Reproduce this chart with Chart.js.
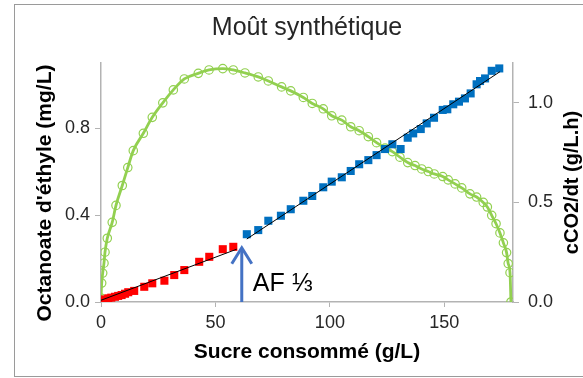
<!DOCTYPE html>
<html><head><meta charset="utf-8">
<script src="https://cdn.jsdelivr.net/npm/chart.js@4/dist/chart.umd.min.js"></script>
<style>html,body{margin:0;padding:0;background:#fff}canvas{display:block}</style>
</head><body>
<canvas id="c" width="583" height="378"></canvas>
<script>
// ---- data ----
const chartTitle = "Moût synthétique";
const xTitle = "Sucre consommé (g/L)";
const yTitle = "Octanoate d'éthyle (mg/L)";
const y1Title = "cCO2/dt (g/L.h)";
const afLabel = "AF ⅓";

// CO2 rate (right axis)
const co2X = [0.0,0.3,0.74,1.3,1.75,2.75,4.9,6.55,9.3,11.7,14.1,18.5,22.4,27.0,31.6,36.4,42.5,47.2,53.2,57.8,62.9,68.7,73.1,78.9,82.9,88.4,92.3,97.1,100.8,105.2,109.1,112.8,116.8,120.4,124.1,127.3,130.6,134.0,137.2,140.1,143.0,145.6,149.3,151.7,154.7,157.6,161.2,164.1,167.0,168.8,170.7,172.6,174.3,175.8,177.2,177.9,178.7,179.1];
const co2Y = [0.02,0.095,0.145,0.195,0.25,0.32,0.40,0.485,0.585,0.675,0.76,0.847,0.927,1.0,1.065,1.12,1.148,1.165,1.172,1.165,1.15,1.13,1.11,1.08,1.06,1.027,0.997,0.97,0.935,0.913,0.88,0.86,0.83,0.80,0.773,0.755,0.727,0.70,0.685,0.668,0.655,0.643,0.63,0.613,0.593,0.573,0.543,0.527,0.50,0.477,0.435,0.393,0.347,0.297,0.248,0.193,0.147,0.0];

// Ethyl octanoate before AF 1/3 (red)
const redX = [0,0.5,1,1.8,3.2,4.5,6.1,7.5,9.0,10.5,11.9,14.5,18.9,22.4,27.7,32.0,36.4,42.9,47.3,53.2,57.8];
const redY = [0.002,0.005,0.008,0.012,0.017,0.02,0.024,0.028,0.032,0.038,0.045,0.051,0.070,0.086,0.098,0.124,0.147,0.185,0.208,0.243,0.254];

// Ethyl octanoate after AF 1/3 (blue)
const blueX = [63.7,68.7,73.1,78.6,82.9,88.4,92.3,97.1,100.8,105.2,109.1,112.8,116.8,120.4,124.1,127.3,130.9,134.0,136.4,139.7,142.3,145.5,149.3,151.3,153.9,156.4,159.0,161.5,164.1,165.6,167.8,170.7,174.0];
const blueY = [0.312,0.331,0.374,0.397,0.427,0.466,0.488,0.528,0.554,0.574,0.603,0.634,0.653,0.676,0.704,0.726,0.704,0.756,0.776,0.796,0.822,0.848,0.884,0.887,0.910,0.922,0.937,0.960,1.002,1.017,1.029,1.064,1.075];

// linear trend lines (end points)
const redTrendX = [0, 59.3];
const redTrendY = [0.008, 0.243];
const blueTrendX = [63.7, 174.3];
const blueTrendY = [0.29, 1.06];

// AF 1/3 marker
const arrowX = 61.5;
const arrowTopY = 0.254;

// axes
const xMin = 0, xMax = 180, xStep = 50;
const yMin = 0, yMax = 1.1, yStep = 0.4;
const y1Min = 0, y1Max = 1.2, y1Step = 0.5;

const pts = (xs, ys) => xs.map((x, i) => ({x: x, y: ys[i]}));

const FONT = "'Liberation Sans', Arial, sans-serif";
const AXIS = '#b3b3b3';
const TXT = '#262626';

const extras = {
  id: 'extras',
  beforeDraw(chart) {
    const ctx = chart.ctx;
    ctx.save();
    ctx.fillStyle = '#fff';
    ctx.fillRect(0, 0, chart.width, chart.height);
    ctx.strokeStyle = '#9a9a9a';
    ctx.lineWidth = 1;
    ctx.strokeRect(14.5, 4.5, 600, 372);
    ctx.restore();
  },
  afterDraw(chart) {
    const ctx = chart.ctx;
    const a = chart.chartArea;
    const xs = chart.scales.x, ys = chart.scales.y;
    ctx.save();
    // title
    ctx.fillStyle = TXT;
    ctx.font = '25px ' + FONT;
    ctx.textAlign = 'center';
    ctx.textBaseline = 'middle';
    ctx.fillText(chartTitle, (a.left + a.right) / 2, 28);
    ctx.fillStyle = '#000';
    // left axis title
    ctx.save();
    ctx.font = 'bold 21px ' + FONT;
    ctx.translate(45, 193);
    ctx.rotate(-Math.PI / 2);
    ctx.fillText(yTitle, 0, 0);
    ctx.restore();
    // right axis title (reading bottom to top)
    ctx.font = 'bold 20px ' + FONT;
    ctx.translate(572, (a.top + a.bottom) / 2);
    ctx.rotate(-Math.PI / 2);
    ctx.fillText(y1Title, 0, 0);
    ctx.restore();

    // arrow
    ctx.save();
    const ax = xs.getPixelForValue(arrowX);
    const ay0 = ys.getPixelForValue(0);
    const ay1 = ys.getPixelForValue(arrowTopY);
    ctx.strokeStyle = '#4472C4';
    ctx.lineWidth = 3;
    ctx.lineCap = 'butt';
    ctx.beginPath();
    ctx.moveTo(ax, ay0);
    ctx.lineTo(ax, ay1 + 2);
    ctx.stroke();
    ctx.lineJoin = 'miter';
    ctx.beginPath();
    ctx.moveTo(ax - 10, ay1 + 17);
    ctx.lineTo(ax, ay1 + 1);
    ctx.lineTo(ax + 10, ay1 + 17);
    ctx.stroke();
    // label
    ctx.fillStyle = '#000';
    ctx.font = '25px ' + FONT;
    ctx.textAlign = 'left';
    ctx.textBaseline = 'alphabetic';
    ctx.fillText(afLabel, ax + 11, ay0 - 11);
    ctx.restore();
  }
};

const tickFont = {family: FONT, size: 18};

new Chart(document.getElementById('c'), {
  type: 'scatter',
  data: {
    datasets: [
      {
        type: 'line', label: 'CO2', yAxisID: 'y1',
        data: pts(co2X, co2Y),
        borderColor: '#92D050', borderWidth: 2.8,
        cubicInterpolationMode: 'monotone',
        pointStyle: 'circle', pointRadius: 4.2,
        pointBorderColor: '#92D050', pointBackgroundColor: 'rgba(0,0,0,0)', pointBorderWidth: 1.2,
        order: 5
      },
      {
        label: 'avant', yAxisID: 'y', data: pts(redX, redY),
        pointStyle: 'rect', pointRadius: 5.7, backgroundColor: '#FF0000', borderColor: '#FF0000', borderWidth: 0,
        order: 3
      },
      {
        label: 'après', yAxisID: 'y', data: pts(blueX, blueY),
        pointStyle: 'rect', pointRadius: 5.7, backgroundColor: '#0070C0', borderColor: '#0070C0', borderWidth: 0,
        order: 3
      },
      {
        type: 'line', label: 'trend1', yAxisID: 'y', data: pts(redTrendX, redTrendY),
        borderColor: '#000', borderWidth: 1, pointRadius: 0, order: 1
      },
      {
        type: 'line', label: 'trend2', yAxisID: 'y', data: pts(blueTrendX, blueTrendY),
        borderColor: '#000', borderWidth: 1, pointRadius: 0, order: 1
      }
    ]
  },
  options: {
    responsive: false,
    animation: false,
    devicePixelRatio: 1,
    layout: {padding: {top: 63, left: 24, right: 0, bottom: 10}},
    plugins: {legend: {display: false}, tooltip: {enabled: false}, title: {display: false}},
    scales: {
      x: {
        type: 'linear', min: xMin, max: xMax,
        afterFit(s) { s.height = 66; },
        ticks: {stepSize: xStep, includeBounds: false, color: TXT, font: tickFont, padding: 5, maxRotation: 0},
        grid: {display: true, drawOnChartArea: false, drawTicks: true, tickLength: 5, color: AXIS},
        border: {display: true, color: AXIS, width: 1.5},
        title: {display: true, text: xTitle, color: '#000', font: {family: FONT, size: 21, weight: 'bold'}, padding: {top: 2, bottom: 3}}
      },
      y: {
        type: 'linear', position: 'left', min: yMin, max: yMax,
        afterFit(s) { s.width = 77; },
        ticks: {stepSize: yStep, includeBounds: false, color: TXT, font: tickFont, padding: 5, callback: v => v.toFixed(1)},
        grid: {display: true, drawOnChartArea: false, drawTicks: true, tickLength: 6, color: AXIS},
        border: {display: true, color: AXIS, width: 1.5},
        title: {display: false}
      },
      y1: {
        type: 'linear', position: 'right', min: y1Min, max: y1Max,
        afterFit(s) { s.width = 70; },
        ticks: {stepSize: y1Step, includeBounds: false, color: TXT, font: tickFont, padding: 9, callback: v => v.toFixed(1)},
        grid: {display: true, drawOnChartArea: false, drawTicks: true, tickLength: 6, color: AXIS},
        border: {display: true, color: AXIS, width: 1.5},
        title: {display: false}
      }
    }
  },
  plugins: [extras]
});
</script>
</body></html>
